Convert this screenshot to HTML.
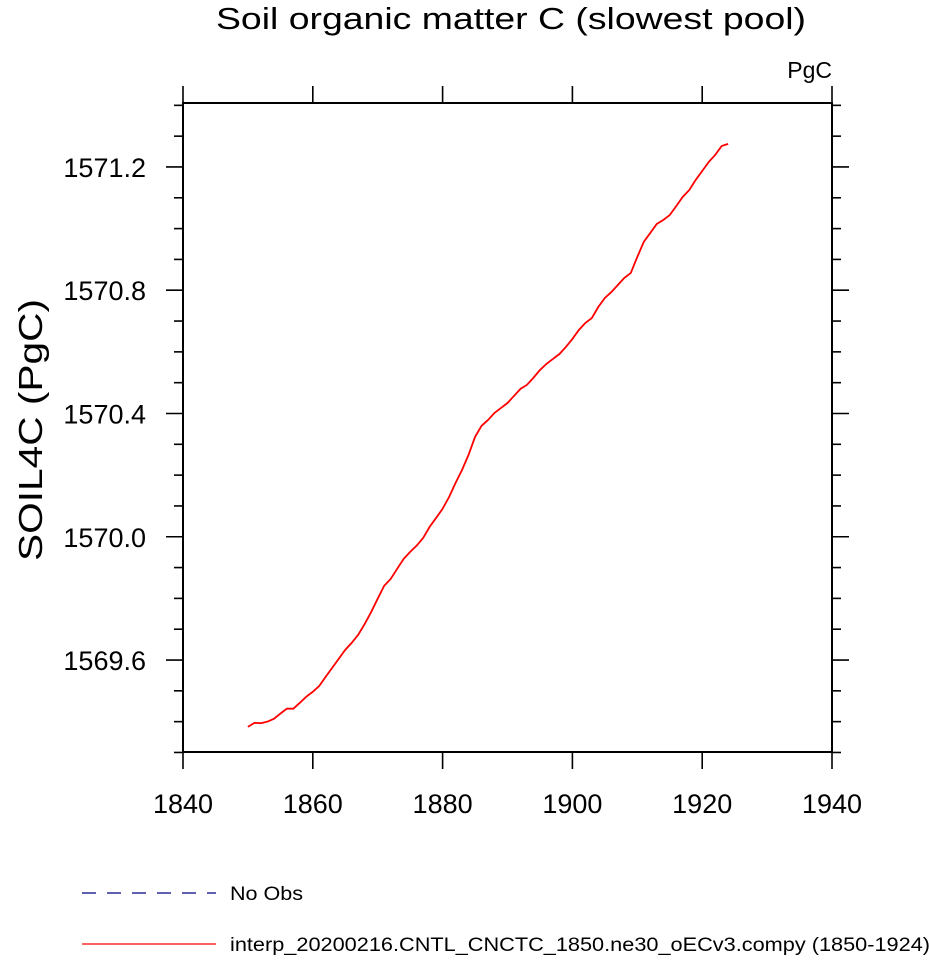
<!DOCTYPE html>
<html><head><meta charset="utf-8"><style>
body{margin:0;background:#fff;}
svg text{font-family:"Liberation Sans",Arial,sans-serif;fill:#000;}
</style></head><body>
<svg width="929" height="958" xmlns="http://www.w3.org/2000/svg">
<text x="216" y="29" font-size="31" textLength="590" lengthAdjust="spacingAndGlyphs">Soil organic matter C (slowest pool)</text>
<text x="832" y="78" font-size="23" text-anchor="end">PgC</text>
<text transform="translate(42,430) rotate(-90)" font-size="33" text-anchor="middle" textLength="262" lengthAdjust="spacingAndGlyphs">SOIL4C  (PgC)</text>
<g id="axes"></g>
<g id="series"></g>
<g>
<line x1="82" y1="893" x2="216" y2="893" stroke="#000080" stroke-width="1.2" stroke-dasharray="14,11"/>
<text x="230" y="900" font-size="19" textLength="73" lengthAdjust="spacingAndGlyphs">No Obs</text>
<line x1="82" y1="944" x2="216" y2="944" stroke="#ff0000" stroke-width="1.2"/>
<text x="230" y="951" font-size="19" textLength="700" lengthAdjust="spacingAndGlyphs">interp_20200216.CNTL_CNCTC_1850.ne30_oECv3.compy (1850-1924)</text>
</g>
</svg>
<script>
const years=[];for(let y=1850;y<=1924;y++)years.push(y);
const soil4c=[1569.383,1569.396,1569.395,1569.400,1569.409,1569.426,1569.442,1569.442,1569.461,1569.481,
1569.497,1569.516,1569.546,1569.575,1569.604,1569.633,1569.656,1569.682,1569.717,1569.756,
1569.799,1569.841,1569.863,1569.896,1569.928,1569.951,1569.971,1569.996,1570.032,1570.061,
1570.091,1570.129,1570.175,1570.217,1570.266,1570.324,1570.360,1570.379,1570.402,1570.418,
1570.434,1570.457,1570.480,1570.493,1570.516,1570.541,1570.561,1570.577,1570.593,1570.616,
1570.642,1570.671,1570.694,1570.710,1570.746,1570.775,1570.794,1570.817,1570.840,1570.856,
1570.908,1570.957,1570.986,1571.015,1571.028,1571.044,1571.073,1571.103,1571.125,1571.158,
1571.187,1571.216,1571.239,1571.268,1571.275];
const xTicks=[1840,1860,1880,1900,1920,1940];
const yTicks=[1569.6,1570.0,1570.4,1570.8,1571.2];
const xDomain=[1840,1940], yDomain=[1569.3015,1571.4076];
const L=183,R=832,T=103,B=752;
const NS="http://www.w3.org/2000/svg";
const sx=v=>L+(v-xDomain[0])/(xDomain[1]-xDomain[0])*(R-L);
const sy=v=>B-(v-yDomain[0])/(yDomain[1]-yDomain[0])*(B-T);
function mk(tag,attrs,parent){const e=document.createElementNS(NS,tag);for(const k in attrs)e.setAttribute(k,attrs[k]);parent.appendChild(e);return e;}
const ax=document.getElementById('axes');
const frame=mk('rect',{x:L,y:T,width:R-L,height:B-T,fill:'none',stroke:'#000','stroke-width':2},ax);


function tl(x1,y1,x2,y2){const l=mk('line',{x1,y1,x2,y2,stroke:'#000','stroke-width':1.6},ax);

}
xTicks.forEach(v=>{const x=sx(v);tl(x,B,x,B+17);tl(x,T,x,T-17);});
for(let i=0;i<=21;i++){const v=1569.3+i*0.1;if(v>yDomain[1])break;const y=sy(v);const m=Math.round(v*10)%4;const major=(m===0);const len=major?17:9;tl(L,y,L-len,y);tl(R,y,R+len,y);}
xTicks.forEach(v=>{const t=mk('text',{x:sx(v),y:B+61,'font-size':27,'text-anchor':'middle'},ax);t.textContent=v;

});
yTicks.forEach(v=>{const t=mk('text',{x:L-37,y:sy(v)+10,'font-size':27,'text-anchor':'end'},ax);t.textContent=v.toFixed(1);

});
const d=years.map((y,i)=>(i?'L':'M')+sx(y).toFixed(2)+','+sy(soil4c[i]).toFixed(2)).join('');
const p=mk('path',{d,fill:'none',stroke:'#ff0000','stroke-width':1.8},document.getElementById('series'));


</script>
</body></html>
